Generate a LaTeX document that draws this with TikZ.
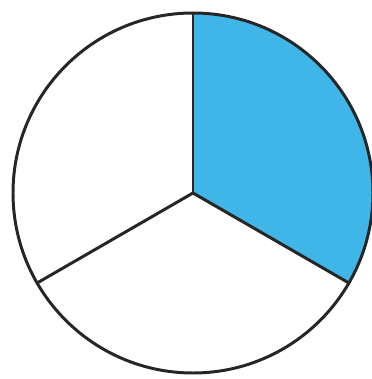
\documentclass[tikz,border=0pt]{standalone}
\usepackage{tikz}
\usetikzlibrary{calc}
\definecolor{sectorblue}{RGB}{64,182,232}

\begin{document}
\begin{tikzpicture}[
  x=0.02cm, y=0.02cm,
  rim/.style={draw=black!85, line width=1.7pt},
  spoke/.style={draw=black!85, line width=1.7pt, line cap=round},
  part/.style={fill=sectorblue}
]
\useasboundingbox (0,0) rectangle (372,379);

% === Centre and the three spoke ends ===
\coordinate (O) at (193,186);
\coordinate (T) at ($(O)+(90:180)$);
\coordinate (L) at ($(O)+(210:180)$);
\coordinate (R) at ($(O)+(-30:180)$);

% === Shaded third (from 90 to -30 degrees) ===
\fill[part] (O) -- (T) arc[start angle=90, end angle=-30, radius=180] -- cycle;

% === Spokes ===
\draw[spoke] (O) -- (T);
\draw[spoke] (O) -- (L);
\draw[spoke] (O) -- (R);

% === Rim ===
\draw[rim] (O) circle[radius=180];
\end{tikzpicture}
\end{document}
